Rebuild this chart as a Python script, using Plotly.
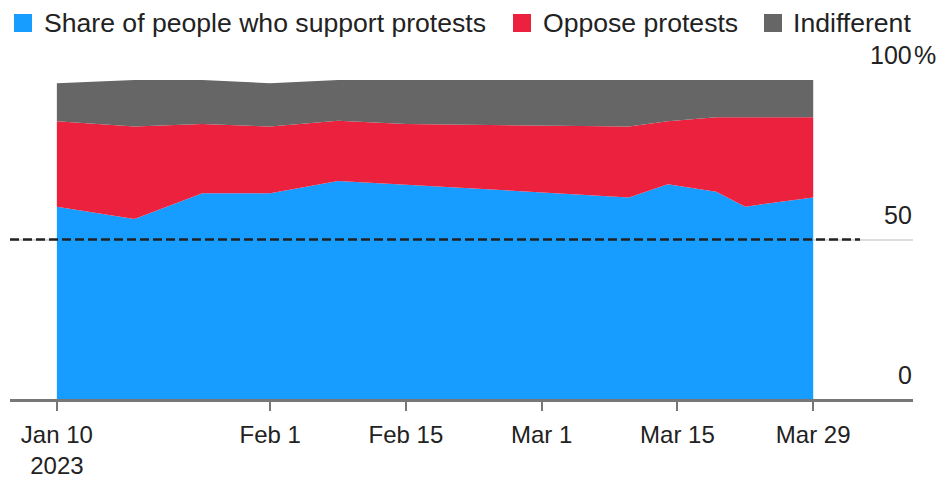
import plotly.graph_objects as go

dates = ["2023-01-10", "2023-01-18", "2023-01-25", "2023-02-01", "2023-02-08",
         "2023-02-15", "2023-03-10", "2023-03-14", "2023-03-19", "2023-03-22",
         "2023-03-29"]
support = [60.3, 56.4, 64.5, 64.5, 68.3, 67.2, 63.2, 67.3, 65.0, 60.3, 63.2]
oppose = [26.8, 29.0, 21.7, 20.9, 18.9, 19.0, 22.2, 19.8, 23.3, 28.0, 25.1]
indifferent = [11.9, 14.6, 13.8, 13.6, 12.8, 13.8, 14.6, 12.9, 11.7, 11.7, 11.7]

series_names = ["Share of people who support protests", "Oppose protests", "Indifferent"]
series_colors = ["#179dff", "#ec213e", "#666666"]

tick_dates = ["2023-01-10", "2023-02-01", "2023-02-15", "2023-03-01", "2023-03-15", "2023-03-29"]
tick_labels = ["Jan 10<br>2023", "Feb 1", "Feb 15", "Mar 1", "Mar 15", "Mar 29"]

FONT = "Liberation Sans, Arial, sans-serif"
W, H = 939, 479
# plot area in page pixels: x 10..913, y 80..399
L, T = 10, 80
R = W - 913
B = H - 399
PW, PH = W - L - R, H - T - B


def px_x(p):
    return (p - L) / PW


def px_y(p):
    return (H - B - p) / PH


fig = go.Figure()
for name, vals, col in zip(series_names, [support, oppose, indifferent], series_colors):
    fig.add_trace(go.Scatter(
        x=dates, y=vals, name=name, stackgroup="one", mode="lines",
        line=dict(width=0, color=col), fillcolor=col, showlegend=False,
        hoverinfo="skip",
    ))

shapes = [
    dict(type="line", xref="paper", yref="y", x0=0, x1=px_x(860), y0=50, y1=50,
         line=dict(color="#222222", width=2.5, dash="9px,4px"), layer="above"),
]
annotations = []
# manual legend
leg = [(14, 42), (513, 541), (764, 791)]
for (sq, tx), name, col in zip(leg, series_names, series_colors):
    shapes.append(dict(type="rect", xref="paper", yref="paper",
                       x0=px_x(sq), x1=px_x(sq + 18), y0=px_y(32), y1=px_y(14),
                       fillcolor=col, line=dict(width=0)))
    annotations.append(dict(xref="paper", yref="paper", x=px_x(tx), y=px_y(23),
                            xanchor="left", yanchor="middle", text=name, showarrow=False,
                            font=dict(family=FONT, size=26.6, color="#222222")))
# right-side value labels
for val, ypx in [(100, 55), (50, 215), (0, 375)]:
    annotations.append(dict(xref="paper", yref="paper", x=px_x(914), y=px_y(ypx),
                            xanchor="right", yanchor="middle", text=str(val), showarrow=False,
                            font=dict(family=FONT, size=25, color="#222222")))
annotations.append(dict(xref="paper", yref="paper", x=px_x(912), y=px_y(55),
                        xanchor="left", yanchor="middle", text="%", showarrow=False,
                        font=dict(family=FONT, size=25, color="#222222")))

fig.update_layout(
    width=W, height=H,
    margin=dict(l=L, r=R, t=T, b=B, pad=0, autoexpand=False),
    paper_bgcolor="white", plot_bgcolor="white",
    showlegend=False,
    shapes=shapes, annotations=annotations,
    xaxis=dict(type="date", range=["2023-01-05 04:00", "2023-04-08 07:00"],
               tickvals=tick_dates, ticktext=tick_labels,
               ticks="outside", ticklen=9, tickwidth=2, tickcolor="#777777",
               ticklabelstandoff=3, automargin=False,
               showline=True, linecolor="#777777", linewidth=2.5,
               showgrid=False, zeroline=False,
               tickfont=dict(family=FONT, size=24, color="#222222")),
    yaxis=dict(range=[0, 100], tickvals=[50, 100], showticklabels=False,
               showgrid=True, gridcolor="#dddddd", gridwidth=1.5, automargin=False,
               zeroline=False, showline=False, fixedrange=True),
)

fig.write_html(
    "out.html",
    config={"displayModeBar": False},
    post_script="document.body.style.margin='0';document.body.style.overflow='hidden';",
)
